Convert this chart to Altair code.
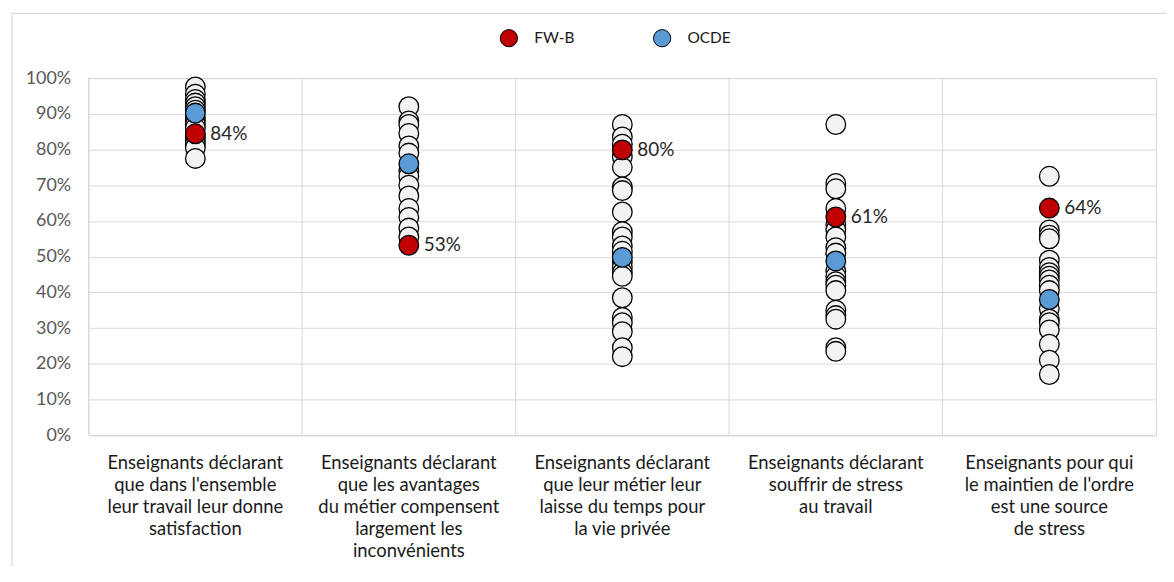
import altair as alt
import pandas as pd

categories = [
    "Enseignants déclarant|que dans l'ensemble|leur travail leur donne|satisfaction",
    "Enseignants déclarant|que les avantages|du métier compensent|largement les|inconvénients",
    "Enseignants déclarant|que leur métier leur|laisse du temps pour|la vie privée",
    "Enseignants déclarant|souffrir de stress|au travail",
    "Enseignants pour qui|le maintien de l'ordre|est une source|de stress",
]

countries_1 = [97.5, 95.5, 94, 93, 92, 91, 89, 88, 87, 86, 83.5, 82.5, 81.5, 80.5, 77.5]
countries_2 = [92, 88, 87, 84.5, 81, 79, 74, 72.5, 70, 67, 63.5, 61, 58, 55.5]
countries_3 = [87, 83.5, 81.5, 78, 75, 69.5, 68.5, 62.5, 57, 55.5, 53, 51.5, 48.5, 47,
               45.5, 44.5, 38.5, 33, 31.5, 29, 24.5, 22]
countries_4 = [87, 70.5, 69, 63.5, 59, 57.5, 55.5, 52.5, 51, 46, 44.5, 43, 42, 40.5,
               35, 33.5, 32.5, 24.5, 23.5]
countries_5 = [72.5, 57.5, 56, 55, 49, 47, 45.5, 44.5, 43.5, 42, 40.5, 35.5, 32.5,
               31.5, 29.5, 25.5, 21, 17]
fwb = [84.4, 53.2, 79.9, 61.1, 63.6]
ocde = [90.2, 76.0, 49.8, 48.8, 38.0]

series_names = ["FW-B", "OCDE"]
series_colors = ["#C00000", "#5B9BD5"]

FONT = "Lato"
PT = 390

countries = [countries_1, countries_2, countries_3, countries_4, countries_5]
rows_c = [{"cat": c, "v": v} for c, vals in zip(categories, countries) for v in vals]
df_c = pd.DataFrame(rows_c)
df_o = pd.DataFrame({"cat": categories, "v": ocde, "s": "OCDE"})
df_f = pd.DataFrame({"cat": categories, "v": fwb, "s": "FW-B"})
df_cat = pd.DataFrame({"cat": categories})

xscale = alt.Scale(domain=categories, paddingInner=0, paddingOuter=0)
yscale = alt.Scale(domain=[0, 100])

x_axis = alt.Axis(labelAngle=0, labelExpr="split(datum.label, '|')", labelFont=FONT,
                  labelFontSize=18.5, labelColor="#1a1a1a", labelLineHeight=22.3,
                  labelPadding=18, ticks=False, domain=False, grid=False,
                  labelBaseline="top", labelLimit=400)
x_enc = alt.X("cat:N", scale=xscale, sort=categories, title=None, axis=x_axis)
y_enc = alt.Y(
    "v:Q", scale=yscale, title=None,
    axis=alt.Axis(values=list(range(0, 101, 10)), labelExpr="datum.value + '%'",
                  labelFont=FONT, labelFontSize=18, labelColor="#595959",
                  labelPadding=18, ticks=False, domain=False, grid=True,
                  gridColor="#D9D9D9", gridWidth=1),
)

seps = alt.Chart(df_cat).mark_rule(color="#D9D9D9", strokeWidth=1).encode(
    x=alt.X("cat:N", scale=xscale, sort=categories, bandPosition=0, title=None,
            axis=x_axis),
)

border = alt.Chart(pd.DataFrame({"a": [0]})).mark_rect(
    filled=False, stroke="#D9D9D9", strokeWidth=1.2
).encode(x=alt.value(-77), x2=alt.value(1120), y=alt.value(-65), y2=alt.value(540))

whites = alt.Chart(df_c).mark_circle(
    size=PT, opacity=1, fill="#F2F2F2", stroke="black", strokeWidth=1.3
).encode(x=x_enc, y=y_enc)

legend = alt.Legend(
    title=None, orient="none", direction="horizontal", legendX=413, legendY=-50,
    labelFont=FONT, labelFontSize=15.5, labelColor="#1a1a1a", symbolSize=300,
    symbolStrokeColor="black", symbolStrokeWidth=1, labelOffset=16,
    columnPadding=76, padding=0,
)
fill_enc = alt.Fill("s:N", scale=alt.Scale(domain=series_names, range=series_colors),
                    legend=legend)

ocde_pts = alt.Chart(df_o).mark_circle(
    size=PT, opacity=1, stroke="black", strokeWidth=1.3
).encode(x=x_enc, y=y_enc, fill=fill_enc)

fwb_pts = alt.Chart(df_f).mark_circle(
    size=PT, opacity=1, stroke="black", strokeWidth=1.3
).encode(x=x_enc, y=y_enc, fill=fill_enc)

fwb_lbl = alt.Chart(df_f).transform_calculate(
    t="format(datum.v, '.0f') + '%'"
).mark_text(align="left", baseline="middle", dx=15, font=FONT, fontSize=19,
            color="#262626").encode(x=x_enc, y=y_enc, text="t:N")

chart = alt.layer(border, seps, whites, ocde_pts, fwb_pts, fwb_lbl).properties(
    width=1073, height=359,
    autosize=alt.AutoSizeParams(type="none"),
    padding={"left": 81, "top": 69, "right": 10, "bottom": 130},
).configure_view(stroke="#D9D9D9", strokeWidth=1)

chart.save("out.html", embed_options={"renderer": "svg", "actions": False})
